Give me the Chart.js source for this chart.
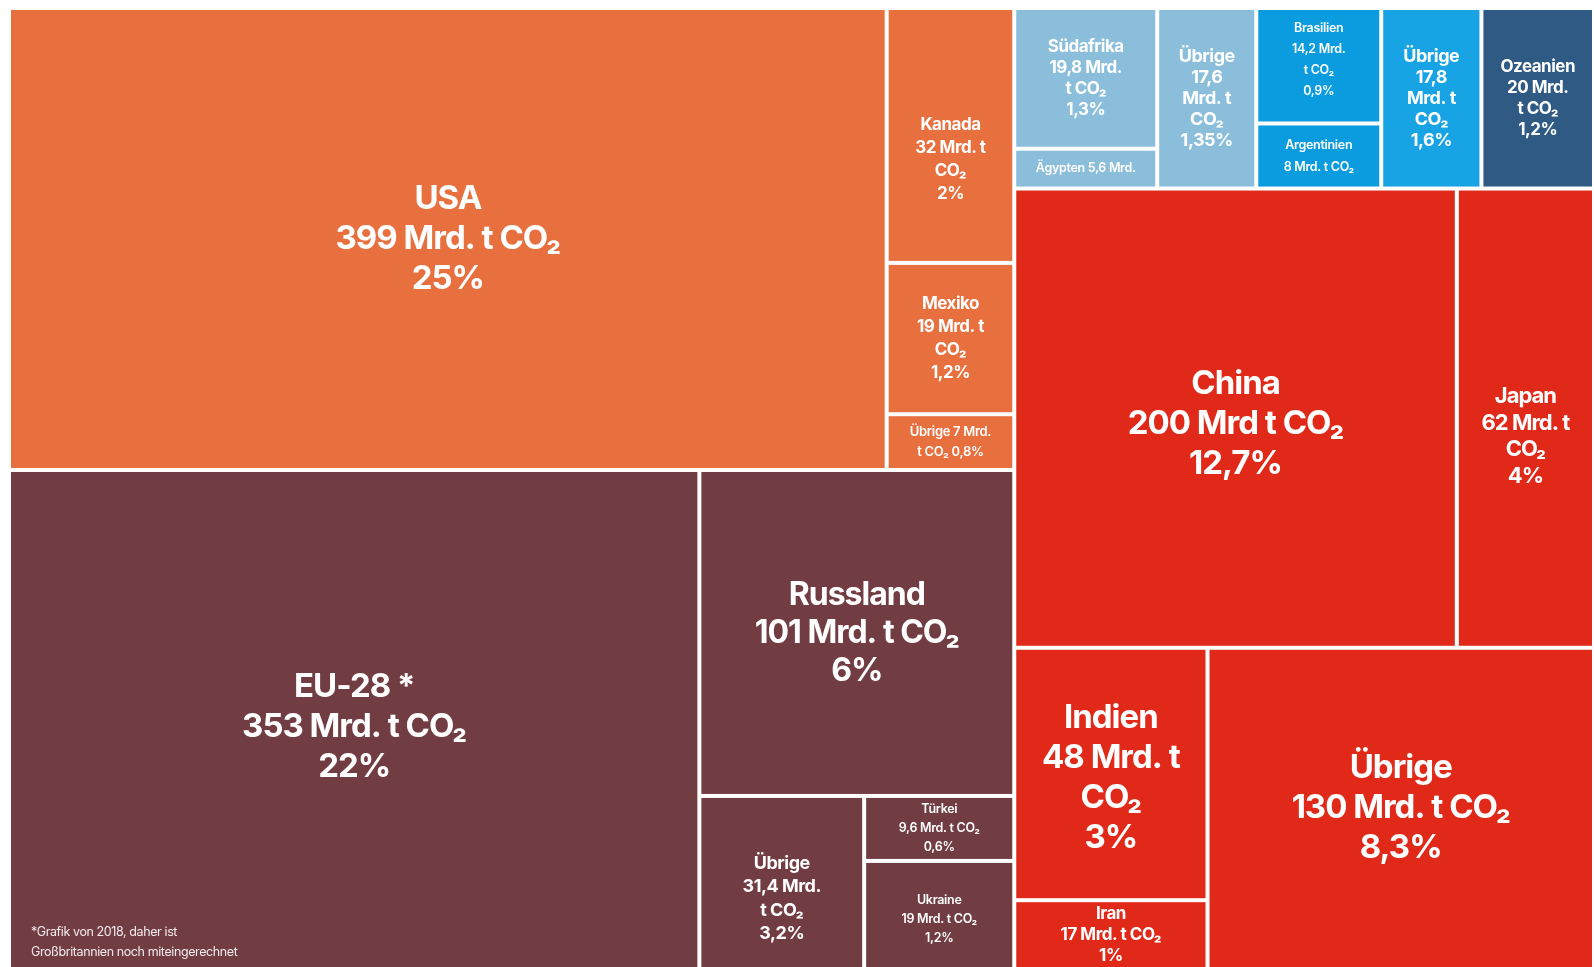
<!DOCTYPE html>
<html>
<head>
<meta charset="utf-8">
<script src="https://cdn.jsdelivr.net/npm/chart.js@4.4.1/dist/chart.umd.min.js"></script>
<style>
  html, body { margin: 0; padding: 0; background: #fff; overflow: hidden; }
  #wrap { width: 1594px; height: 967px; }
</style>
</head>
<body>
<div id="wrap"><canvas id="treemap"></canvas></div>
<script>
// Kumulierte CO2-Emissionen nach Ländern (Mrd. t)
const countries = ['USA', 'Kanada', 'Mexiko', 'Übrige NA', 'EU-28', 'Russland', 'Übrige EU', 'Türkei', 'Ukraine',
    'Südafrika', 'Ägypten', 'Übrige AF', 'Brasilien', 'Argentinien', 'Übrige SA', 'Ozeanien',
    'China', 'Japan', 'Indien', 'Iran', 'Übrige AS'];
const emissions = [399, 32, 19, 7, 353, 101, 31.4, 9.6, 19,
    19.8, 5.6, 17.6, 14.2, 8, 17.8, 20,
    200, 62, 48, 17, 130];
const regionOf = ['na', 'na', 'na', 'na', 'eu', 'eu', 'eu', 'eu', 'eu',
    'af', 'af', 'af', 'sa', 'sa', 'sa2', 'oc',
    'as', 'as', 'as', 'as', 'as'];
const labelLines = [
    ['USA', '399 Mrd. t CO₂', '25%'],
    ['Kanada', '32 Mrd. t', 'CO₂', '2%'],
    ['Mexiko', '19 Mrd. t', 'CO₂', '1,2%'],
    ['Übrige 7 Mrd.', 't CO₂ 0,8%'],
    ['EU-28 *', '353 Mrd. t CO₂', '22%'],
    ['Russland', '101 Mrd. t CO₂', '6%'],
    ['Übrige', '31,4 Mrd.', 't CO₂', '3,2%'],
    ['Türkei', '9,6 Mrd. t CO₂', '0,6%'],
    ['Ukraine', '19 Mrd. t CO₂', '1,2%'],
    ['Südafrika', '19,8 Mrd.', 't CO₂', '1,3%'],
    ['Ägypten 5,6 Mrd.'],
    ['Übrige', '17,6', 'Mrd. t', 'CO₂', '1,35%'],
    ['Brasilien', '14,2 Mrd.', 't CO₂', '0,9%'],
    ['Argentinien', '8 Mrd. t CO₂'],
    ['Übrige', '17,8', 'Mrd. t', 'CO₂', '1,6%'],
    ['Ozeanien', '20 Mrd.', 't CO₂', '1,2%'],
    ['China', '200 Mrd t CO₂', '12,7%'],
    ['Japan', '62 Mrd. t', 'CO₂', '4%'],
    ['Indien', '48 Mrd. t', 'CO₂', '3%'],
    ['Iran', '17 Mrd. t CO₂', '1%'],
    ['Übrige', '130 Mrd. t CO₂', '8,3%']
];
const footnote = ['*Grafik von 2018, daher ist', 'Großbritannien noch miteingerechnet'];

// Aufteilung: 'h' = nebeneinander, 'v' = übereinander; Zahlen = Index in countries
const tree = ['h', [
    ['v', [
        ['h', [0, ['v', [1, 2, 3]]]],
        ['h', [4, ['v', [5, ['h', [6, ['v', [7, 8]]]]]]]]
    ]],
    ['v', [
        ['h', [['h', [['v', [9, 10]], 11]], ['h', [['v', [12, 13]], 14]], 15]],
        ['v', [['h', [16, 17]], ['h', [['v', [18, 19]], 20]]]]
    ]]
]];

const regionColors = {
    na: '#e86f3e', eu: '#723c43', af: '#8bbedb', sa: '#0b9cdf', sa2: '#17a3e4', oc: '#2f5a84', as: '#e12919'
};
// Schriftgröße und Zeilenabstand je Feld
const fontSizes = [33, 17, 17, 13, 33, 32, 18, 12.5, 12.5, 17, 12.5, 18, 12.5, 12.5, 18, 17, 33, 22, 33, 17, 33];
const lineHeights = [40, 23, 23, 20, 40, 38, 23.5, 19, 19, 21, 19, 21, 21, 22, 21, 21, 40, 26.5, 40, 21, 40];
const labelShift = { 1: 24, 17: 18, 16: 6, 12: -6, 6: 16, 8: 4, 4: 8, 18: 4 };

const nodeValue = (node) => typeof node === 'number' ? emissions[node] : node[1].reduce((s, c) => s + nodeValue(c), 0);

const cells = [];
const layout = (node, x0, y0, x1, y1) => {
    if (typeof node === 'number') {
        cells[node] = { x0, y0, x1, y1 };
        return;
    }
    const [dir, children] = node;
    const total = nodeValue(node);
    let pos = dir === 'h' ? x0 : y0;
    children.forEach(child => {
        const span = nodeValue(child) / total * (dir === 'h' ? x1 - x0 : y1 - y0);
        if (dir === 'h') layout(child, pos, y0, pos + span, y1);
        else layout(child, x0, pos, x1, pos + span);
        pos += span;
    });
};
layout(tree, 0, 0, 1, 1);

const FONT = "Inter, 'Liberation Sans', sans-serif";
const GAP = 2;

const treemapPlugin = {
    id: 'treemapCells',
    afterDatasetsDraw(chart) {
        const { ctx, scales: { x, y } } = chart;
        const visibleBottom = chart.height;
        ctx.save();
        cells.forEach((c, i) => {
            const left = x.getPixelForValue(c.x0) + GAP;
            const right = x.getPixelForValue(c.x1) - GAP;
            const top = y.getPixelForValue(c.y0) + GAP;
            const bottom = y.getPixelForValue(c.y1) - GAP;
            ctx.fillStyle = regionColors[regionOf[i]];
            ctx.fillRect(left, top, right - left, bottom - top);

            const lines = labelLines[i];
            const lh = lineHeights[i];
            const small = fontSizes[i] < 14;
            const cx = (left + right) / 2;
            const cy = (top + Math.min(bottom, visibleBottom)) / 2 + (labelShift[i] || 0);
            ctx.fillStyle = '#ffffff';
            ctx.textAlign = 'center';
            ctx.textBaseline = 'middle';
            ctx.font = `${small ? 600 : 700} ${fontSizes[i]}px ${FONT}`;
            ctx.letterSpacing = fontSizes[i] >= 20 ? '-1px' : (small ? '-0.3px' : '-0.5px');
            lines.forEach((line, k) => {
                ctx.fillText(line, cx, cy + (k - (lines.length - 1) / 2) * lh);
            });
        });
        // Fußnote im EU-Feld
        const eu = cells[4];
        ctx.font = `400 12.5px ${FONT}`;
        ctx.letterSpacing = '-0.4px';
        ctx.textAlign = 'left';
        ctx.fillStyle = 'rgba(255,255,255,0.9)';
        footnote.forEach((line, k) => {
            ctx.fillText(line, x.getPixelForValue(eu.x0) + 22, 932 + k * 20);
        });
        ctx.restore();
    }
};

new Chart(document.getElementById('treemap'), {
    type: 'scatter',
    data: {
        datasets: [{
            data: cells.map((c, i) => ({ x: (c.x0 + c.x1) / 2, y: (c.y0 + c.y1) / 2, name: countries[i] })),
            pointRadius: 0
        }]
    },
    options: {
        responsive: true,
        maintainAspectRatio: false,
        animation: false,
        layout: { padding: { left: 9, top: 8, right: -2, bottom: 0 } },
        scales: {
            x: { type: 'linear', min: 0, max: 1, display: false },
            y: { type: 'linear', min: 0, max: 0.977, reverse: true, display: false }
        },
        plugins: { legend: { display: false }, tooltip: { enabled: false } }
    },
    plugins: [treemapPlugin]
});
</script>
</body>
</html>
